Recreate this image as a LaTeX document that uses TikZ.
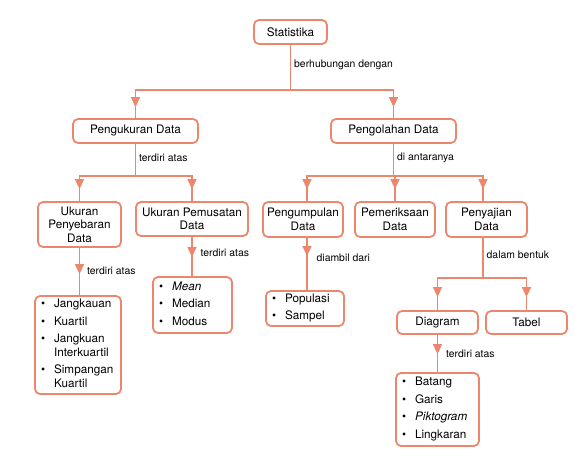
\documentclass[tikz,border=0pt]{standalone}
\usepackage{fontspec}
\setmainfont{TeX Gyre Heros}
\usetikzlibrary{calc,arrows.meta,decorations.markings}
\definecolor{salmon}{RGB}{236,134,108}
\tikzset{
  box/.style={
    draw = salmon,
    line width = 1.8pt,
    rounded corners = 5pt,
    inner sep = 2pt,
    align = center,
    font = \fontsize{11.7}{13.5}\selectfont
  },
  lst/.style={
    box,
    inner xsep = 6pt,
    align = left
  },
  link/.style={
    draw = salmon,
    line width = 1.4pt
  },
  tipat/.style={
    postaction = {decorate},
    decoration = {markings,
      mark = at position #1 with {\arrow[salmon]{Triangle[width=9pt,length=10pt]}}}
  },
  lbl/.style={
    anchor = west,
    inner sep = 3pt,
    font = \fontsize{10.4}{12}\selectfont
  },
}
\newcommand{\itemrows}[1]{\begin{tabular}{@{}l@{\hspace{9pt}}l@{}}#1\end{tabular}}
\begin{document}
\begin{tikzpicture}[x=1pt,y=-1pt]
  \useasboundingbox (0,0) rectangle (575,452);
  % boxes
  \node[box,minimum width=73pt,minimum height=24pt]  (stat)    at (290.5,32)  {Statistika};
  \node[box,minimum width=125pt,minimum height=24pt] (ukur)    at (135.5,131) {Pengukuran Data};
  \node[box,minimum width=125pt,minimum height=24pt] (olah)    at (393.5,131) {Pengolahan Data};
  \node[box,minimum width=83pt,minimum height=45pt]  (sebar)   at (79.5,224.5) {Ukuran\\Penyebaran\\Data};
  \node[box,minimum width=112pt,minimum height=34pt] (pusat)   at (192,219)   {Ukuran Pemusatan\\Data};
  \node[box,minimum width=80pt,minimum height=35pt]  (kumpul)  at (303,219.5) {Pengumpulan\\Data};
  \node[box,minimum width=80pt,minimum height=35pt]  (periksa) at (395,219.5) {Pemeriksaan\\Data};
  \node[box,minimum width=81pt,minimum height=35pt]  (saji)    at (486.5,219.5) {Penyajian\\Data};
  \node[box,minimum width=81pt,minimum height=23pt]  (diag)    at (437.5,322.5) {Diagram};
  \node[box,minimum width=81pt,minimum height=23pt]  (tabel)   at (526.5,322.5) {Tabel};
  % lists
  \node[lst,text width=74pt,minimum height=98pt] (slist) at (78,345) {\itemrows{
    \textbullet & Jangkauan\\[4pt]
    \textbullet & Kuartil\\[4pt]
    \textbullet & Jangkuan\\
                & Interkuartil\\[4pt]
    \textbullet & Simpangan\\
                & Kuartil}};
  \node[lst,text width=67pt,minimum height=56pt] (plist) at (192.5,305) {\itemrows{
    \textbullet & \textit{Mean}\\[4pt]
    \textbullet & Median\\[4pt]
    \textbullet & Modus}};
  \node[lst,text width=66pt,minimum height=35pt] (klist) at (305,308.5) {\itemrows{
    \textbullet & Populasi\\[4pt]
    \textbullet & Sampel}};
  \node[lst,text width=71pt,minimum height=73pt] (dlist) at (437.5,409.5) {\itemrows{
    \textbullet & Batang\\[4pt]
    \textbullet & Garis\\[4pt]
    \textbullet & \textit{Piktogram}\\[4pt]
    \textbullet & Lingkaran}};
  % connectors
  \draw[link] (stat.south) -- node[lbl,pos=.44] {berhubungan dengan} ++(0,45) coordinate (bus1);
  \draw[link,tipat=-11pt] (bus1) -| (ukur.north);
  \draw[link,tipat=-11pt] (bus1) -| (olah.north);
  \draw[link] (ukur.south) -- node[lbl,pos=.44] {terdiri atas} ++(0,32) coordinate (bus2);
  \draw[link,tipat=-12pt] (bus2) -| (sebar.north);
  \draw[link,tipat=-12pt] (bus2) -| (pusat.north);
  \draw[link] (olah.south) -- node[lbl,pos=.44] {di antaranya} ++(0,32) coordinate (bus3);
  \draw[link,tipat=-12pt] (bus3) -| ([xshift=4pt]kumpul.north);
  \draw[link,tipat=-12pt] (bus3) -| (periksa.north);
  \draw[link,tipat=-12pt] (bus3) -| ([xshift=-3.5pt]saji.north);
  \draw[link] ([xshift=-3.5pt]saji.south) -- node[lbl,pos=.43] {dalam bentuk} ++(0,40) coordinate (bus4);
  \draw[link,tipat=-13pt] (bus4) -| (diag.north);
  \draw[link,tipat=-13pt] (bus4) -| (tabel.north);
  \draw[link,tipat=-21pt] (sebar.south) -- node[lbl,pos=.49,xshift=4pt] {terdiri atas} (sebar.south |- slist.north);
  \draw[link,tipat=-19pt] (pusat.south) -- node[lbl,pos=.41,xshift=5pt] {terdiri atas} (pusat.south |- plist.north);
  \coordinate (k) at ([xshift=4pt]kumpul.south);
  \draw[link,tipat=-34pt] (k) -- node[lbl,pos=.39,xshift=6pt] {diambil dari} (k |- klist.north);
  \draw[link,tipat=-18pt] (diag.south) -- node[lbl,pos=.51,xshift=5pt] {terdiri atas} (diag.south |- dlist.north);
\end{tikzpicture}
\end{document}
